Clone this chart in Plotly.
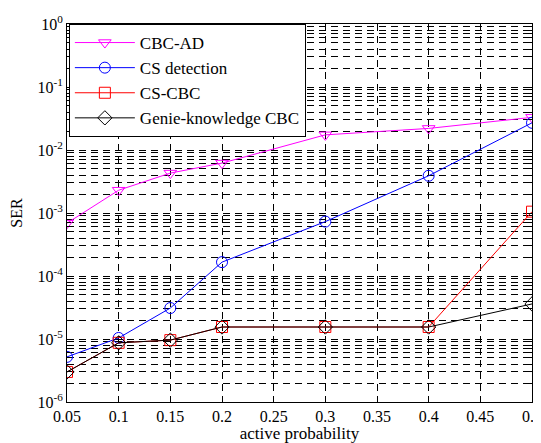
import plotly.graph_objects as go

x = [0.05, 0.1, 0.15, 0.2, 0.3, 0.4, 0.5]
cbc_ad = [6.9e-4, 2.3e-3, 4.3e-3, 6.2e-3, 1.74e-2, 2.2e-2, 3.3e-2]
cs_detection = [5.2e-6, 1.04e-5, 3.1e-5, 1.66e-4, 7.3e-4, 3.9e-3, 2.7e-2]
cs_cbc = [3.0e-6, 8.7e-6, 9.6e-6, 1.55e-5, 1.55e-5, 1.55e-5, 1.05e-3]
genie = [3.0e-6, 8.7e-6, 9.6e-6, 1.55e-5, 1.55e-5, 1.55e-5, 3.6e-5]

y_tickvals = [1e-6, 1e-5, 1e-4, 1e-3, 1e-2, 1e-1, 1e0]
y_ticktext = ["10<sup>-6</sup>", "10<sup>-5</sup>", "10<sup>-4</sup>", "10<sup>-3</sup>",
              "10<sup>-2</sup>", "10<sup>-1</sup>", "10<sup>0</sup>"]
x_tickvals = [0.05, 0.1, 0.15, 0.2, 0.25, 0.3, 0.35, 0.4, 0.45, 0.5]
x_ticktext = ["0.05", "0.1", "0.15", "0.2", "0.25", "0.3", "0.35", "0.4", "0.45", "0.5"]

# minor log grid positions (2..9 within each decade)
y_minor = [m * d for d in y_tickvals[:-1] for m in range(2, 10)]

FONT = "Liberation Serif"

fig = go.Figure()
series = [
    ("CBC-AD", cbc_ad, "#ff00ff", "triangle-down-open"),
    ("CS detection", cs_detection, "#0000ff", "circle-open"),
    ("CS-CBC", cs_cbc, "#ff0000", "square-open"),
    ("Genie-knowledge CBC", genie, "#000000", "diamond-open"),
]
for name, ys, col, sym in series:
    fig.add_trace(go.Scatter(
        x=x, y=ys, name=name, mode="lines+markers", legendgroup=name,
        line=dict(color=col, width=1),
        marker=dict(symbol=sym, size=11, color=col, line=dict(width=1, color=col)),
    ))

DASH = "7px,5px"
fig.update_xaxes(
    range=[0.05, 0.5], tickvals=x_tickvals, ticktext=x_ticktext,
    showgrid=True, gridcolor="#000000", gridwidth=1, griddash=DASH, zeroline=False,
    showline=True, linecolor="black", linewidth=1, mirror="allticks",
    ticks="inside", ticklen=5, tickcolor="black", ticklabeloverflow="allow",
    title=dict(text="active probability", standoff=6, font=dict(size=17, family=FONT, color="black")),
    tickfont=dict(size=16, family=FONT, color="black"),
)
fig.update_yaxes(
    type="log", range=[-6, 0], tickvals=y_tickvals, ticktext=y_ticktext,
    showgrid=True, gridcolor="#000000", gridwidth=1, griddash=DASH, zeroline=False,
    showline=True, linecolor="black", linewidth=1, mirror="allticks",
    ticks="inside", ticklen=5, tickcolor="black", ticklabeloverflow="allow",
    minor=dict(tickmode="array", tickvals=y_minor, showgrid=True, gridcolor="#000000",
               gridwidth=1, griddash=DASH, ticks="inside", ticklen=3, tickcolor="black"),
    title=dict(text="SER", standoff=12, font=dict(size=16, family=FONT, color="black")),
    tickfont=dict(size=16, family=FONT, color="black"),
)
fig.update_layout(
    width=533, height=435,
    margin=dict(l=59, r=9, t=16, b=41, autoexpand=False),
    paper_bgcolor="white", plot_bgcolor="white",
    font=dict(family=FONT, color="black"),
    showlegend=True,
    legend=dict(
        x=0.004, y=1.0, xanchor="left", yanchor="top",
        bgcolor="white", bordercolor="black", borderwidth=1,
        font=dict(size=17, family=FONT, color="black"),
        tracegroupgap=0, itemwidth=60,
    ),
)
fig.write_html("out.html")
